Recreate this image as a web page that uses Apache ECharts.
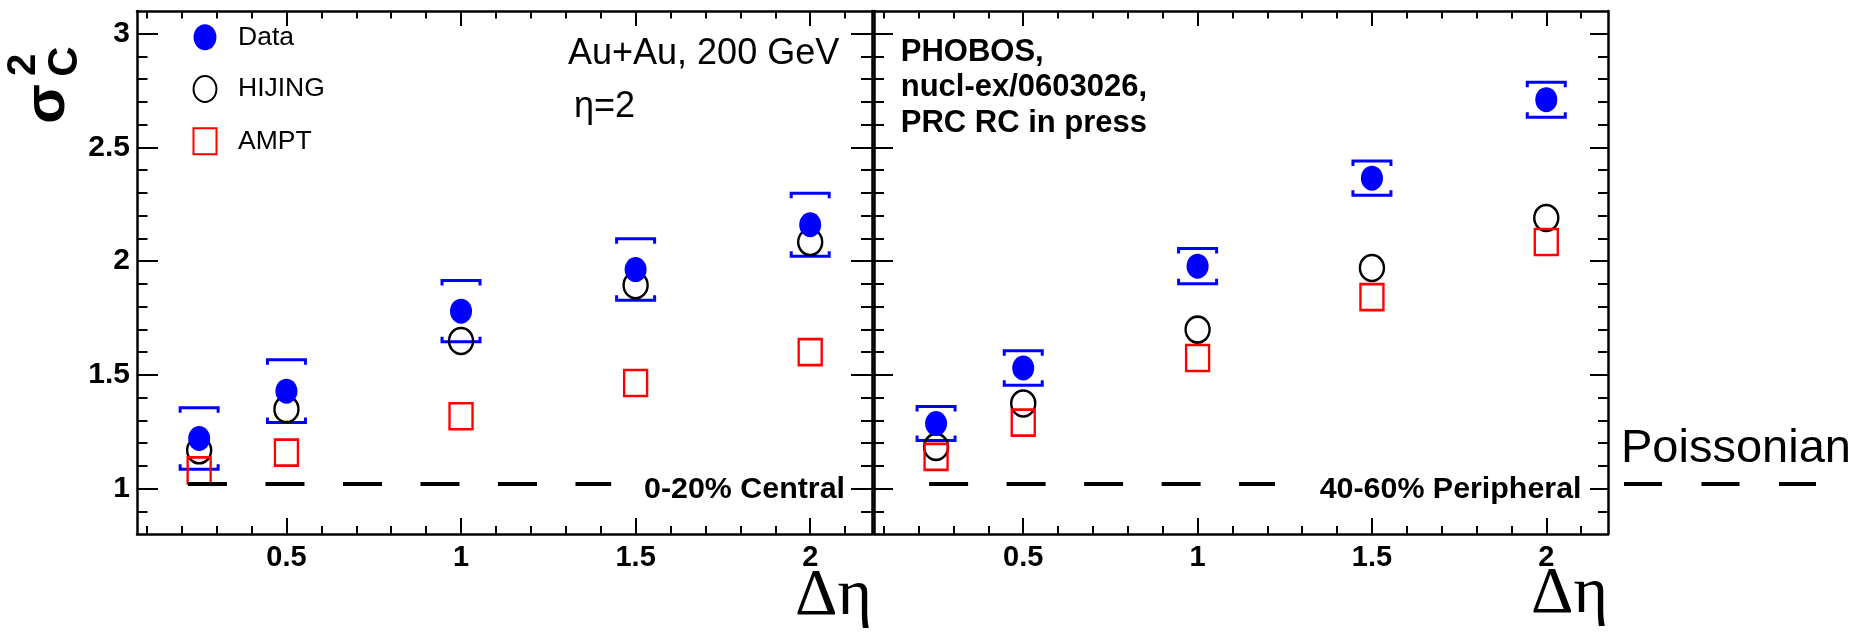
<!DOCTYPE html>
<html>
<head>
<meta charset="utf-8">
<title>Charge fluctuations vs Δη</title>
<script src="https://cdn.jsdelivr.net/npm/echarts@6/dist/echarts.min.js"></script>
<style>
  html, body { margin: 0; padding: 0; background: #ffffff; }
  #chart { width: 1867px; height: 635px; }
</style>
</head>
<body>
<div id="chart"></div>
<script>
// ---- values ----
const deltaEta = [0.25, 0.5, 1, 1.5, 2];

const dataCentral   = [1.22, 1.428, 1.78, 1.963, 2.16];
const errCentral    = [0.135, 0.138, 0.135, 0.135, 0.138];
const hijingCentral = [1.168, 1.349, 1.649, 1.894, 2.084];
const amptCentral   = [1.08, 1.158, 1.318, 1.464, 1.60];

const dataPeripheral   = [1.286, 1.53, 1.978, 2.365, 2.71];
const errPeripheral    = [0.075, 0.076, 0.078, 0.075, 0.077];
const hijingPeripheral = [1.183, 1.374, 1.699, 1.97, 2.19];
const amptPeripheral   = [1.139, 1.29, 1.574, 1.842, 2.084];

// Poissonian reference level and the stretch of Δη it is drawn over in each panel
const poissonLevel = 1.02;
const poissonSpanCentral = [0.218, 1.43];
const poissonSpanPeripheral = [0.23, 1.222];

// ---- axes ----
const xRange = [0.072, 2.177];
const yRange = [0.8, 3.1];
const xMajorTicks = [0.5, 1, 1.5, 2];
const xMinorTicks = [0.1, 0.2, 0.3, 0.4, 0.6, 0.7, 0.8, 0.9, 1.1, 1.2, 1.3, 1.4, 1.6, 1.7, 1.8, 1.9, 2.1];
const yMajorTicks = [1, 1.5, 2, 2.5, 3];
const yMinorTicks = [0.9, 1.1, 1.2, 1.3, 1.4, 1.6, 1.7, 1.8, 1.9, 2.1, 2.2, 2.3, 2.4, 2.6, 2.7, 2.8, 2.9];

const SANS = '"Liberation Sans", Arial, Helvetica, sans-serif';
const SERIF = '"Liberation Serif", "DejaVu Serif", serif';
const BLUE = '#0000ff', RED = '#ff0000', BLACK = '#000000';

// a condensed face for the tall bold labels, when the system has one
function hasFont(name) {
  const ctx = document.createElement('canvas').getContext('2d');
  ctx.font = '40px monospace';
  const base = ctx.measureText('0.5 Central').width;
  ctx.font = '40px "' + name + '", monospace';
  return ctx.measureText('0.5 Central').width !== base;
}
const NARROW_OK = hasFont('Liberation Sans Narrow');
const NARROW = NARROW_OK ? '"Liberation Sans Narrow", ' + SANS : SANS;
const yLabelSize = NARROW_OK ? 33 : 30;
const centralityFont = NARROW_OK ? 'bold 37px ' + NARROW : 'bold 30.4px ' + SANS;

// marker shapes: slightly tall ellipse and tall box
const ELLIPSE = 'path://M0,12.5A11,12.5 0 1 1 22,12.5A11,12.5 0 1 1 0,12.5Z';
const BOX = 'path://M0,0H23V26H0Z';

const noLine = { show: false, onZero: false };
const tickLine = { color: BLACK, width: 2 };

function axis(dim, gridIndex, position, ticks, len, opts) {
  return {
    type: 'value', gridIndex, position,
    min: dim === 'x' ? xRange[0] : yRange[0],
    max: dim === 'x' ? xRange[1] : yRange[1],
    axisLine: opts.line
      ? { show: true, onZero: false, lineStyle: { color: BLACK, width: 2.5 } }
      : noLine,
    axisTick: { show: true, inside: true, length: len, customValues: ticks, lineStyle: tickLine },
    axisLabel: opts.labels
      ? { show: true, customValues: ticks, margin: opts.margin, color: BLACK,
          fontWeight: 'bold', fontSize: opts.fontSize, fontFamily: opts.fontFamily }
      : { show: false },
    splitLine: { show: false },
    silent: true
  };
}

const xLabelOpts = { line: true, labels: true, margin: 9, fontSize: 29, fontFamily: SANS };
const yLabelOpts = { line: true, labels: true, margin: 7, fontSize: yLabelSize, fontFamily: NARROW };

const xAxis = [
  // left panel: 0 bottom major, 1 bottom minor, 2 top major, 3 top minor
  axis('x', 0, 'bottom', xMajorTicks, 16, xLabelOpts),
  axis('x', 0, 'bottom', xMinorTicks, 8, {}),
  axis('x', 0, 'top', xMajorTicks, 15, { line: true }),
  axis('x', 0, 'top', xMinorTicks, 7.5, {}),
  // right panel: 4..7
  axis('x', 1, 'bottom', xMajorTicks, 16, xLabelOpts),
  axis('x', 1, 'bottom', xMinorTicks, 8, {}),
  axis('x', 1, 'top', xMajorTicks, 15, { line: true }),
  axis('x', 1, 'top', xMinorTicks, 7.5, {})
];

const yAxis = [
  // left panel: 0 left major, 1 left minor, 2 right major, 3 right minor
  axis('y', 0, 'left', yMajorTicks, 21, yLabelOpts),
  axis('y', 0, 'left', yMinorTicks, 10.5, {}),
  axis('y', 0, 'right', yMajorTicks, 21, { line: true }),
  axis('y', 0, 'right', yMinorTicks, 11, {}),
  // right panel: 4..7
  axis('y', 1, 'left', yMajorTicks, 19, { line: true }),
  axis('y', 1, 'left', yMinorTicks, 10, {}),
  axis('y', 1, 'right', yMajorTicks, 18, { line: true }),
  axis('y', 1, 'right', yMinorTicks, 10, {})
];

function pairs(xs, ys) { return xs.map((x, i) => [x, ys[i]]); }
function triples(xs, ys, es) { return xs.map((x, i) => [x, ys[i], es[i]]); }

// bracket-style error caps above and below each measured point
function renderBrackets(params, api) {
  const x = api.value(0), y = api.value(1), e = api.value(2);
  const hi = api.coord([x, y + e]);
  const lo = api.coord([x, y - e]);
  const hw = 19, hook = 5;
  const style = { stroke: BLUE, lineWidth: 3, fill: 'none' };
  return {
    type: 'group',
    children: [
      { type: 'polyline', shape: { points: [[hi[0] - hw, hi[1] + hook], [hi[0] - hw, hi[1]], [hi[0] + hw, hi[1]], [hi[0] + hw, hi[1] + hook]] }, style },
      { type: 'polyline', shape: { points: [[lo[0] - hw, lo[1] - hook], [lo[0] - hw, lo[1]], [lo[0] + hw, lo[1]], [lo[0] + hw, lo[1] - hook]] }, style }
    ]
  };
}

function panelSeries(axisIndex, data, err, hijing, ampt, poissonSpan) {
  const ax = { xAxisIndex: axisIndex, yAxisIndex: axisIndex };
  return [
    { ...ax, type: 'line', name: 'Poissonian', data: [[poissonSpan[0], poissonLevel], [poissonSpan[1], poissonLevel]],
      symbol: 'none', silent: true, lineStyle: { color: BLACK, width: 4, type: [39, 38.5] } },
    { ...ax, type: 'scatter', name: 'HIJING', data: pairs(deltaEta, hijing),
      symbol: ELLIPSE, symbolSize: [24, 26],
      itemStyle: { color: 'rgba(0,0,0,0)', borderColor: BLACK, borderWidth: 2.5, opacity: 1 } },
    { ...ax, type: 'scatter', name: 'AMPT', data: pairs(deltaEta, ampt),
      symbol: BOX, symbolSize: [23, 26],
      itemStyle: { color: 'rgba(0,0,0,0)', borderColor: RED, borderWidth: 2.5, opacity: 1 } },
    { ...ax, type: 'custom', name: 'Data errors', data: triples(deltaEta, data, err),
      renderItem: renderBrackets, encode: { x: 0, y: 1 }, silent: true },
    { ...ax, type: 'scatter', name: 'Data', data: pairs(deltaEta, data),
      symbol: ELLIPSE, symbolSize: [22, 25],
      itemStyle: { color: BLUE, opacity: 1 } }
  ];
}

const option = {
  backgroundColor: '#ffffff',
  animation: false,
  grid: [
    { left: 137, top: 11, width: 735, height: 523 },
    { left: 874, top: 11, width: 734, height: 523 }
  ],
  xAxis, yAxis,
  legend: {
    data: ['Data', 'HIJING', 'AMPT'],
    orient: 'vertical',
    left: 192.5, top: 23.7, padding: 0,
    itemWidth: 56, itemHeight: 26, itemGap: 24.3,
    symbolKeepAspect: true,
    selectedMode: false,
    textStyle: { fontSize: 26.5, color: BLACK, fontFamily: SANS }
  },
  series: [
    ...panelSeries(0, dataCentral, errCentral, hijingCentral, amptCentral, poissonSpanCentral),
    ...panelSeries(4, dataPeripheral, errPeripheral, hijingPeripheral, amptPeripheral, poissonSpanPeripheral)
  ]
};

const chart = echarts.init(document.getElementById('chart'), null, { renderer: 'canvas' });
chart.setOption(option);

// annotations, axis titles and the Poissonian key beside the right panel
const keyY = chart.convertToPixel({ yAxisIndex: 4 }, poissonLevel);
const leftPanelRight = chart.convertToPixel({ xAxisIndex: 0 }, xRange[1]);
const rightPanelRight = chart.convertToPixel({ xAxisIndex: 4 }, xRange[1]);
const axisBottom = chart.convertToPixel({ yAxisIndex: 0 }, yRange[0]);

function rotatedGlyph(text, x, y, font) {
  return { type: 'text', x, y, rotation: Math.PI / 2, silent: true,
    style: { text, font, fill: BLACK, textAlign: 'center', textVerticalAlign: 'middle', align: 'center', verticalAlign: 'middle' } };
}
function etaTitle(right, top) {
  return { type: 'text', x: right, y: top, silent: true,
    style: { text: 'Δη', font: '66px ' + SERIF, fill: BLACK, textAlign: 'right', align: 'right', textVerticalAlign: 'top', verticalAlign: 'top' } };
}

chart.setOption({
  graphic: [
    { type: 'text', left: 568, top: 35.8, silent: true,
      style: { text: 'Au+Au, 200 GeV', font: '36px ' + SANS, fill: BLACK } },
    { type: 'text', left: 574, top: 89, silent: true,
      style: { text: 'η=2', font: '36px ' + SANS, fill: BLACK } },
    { type: 'text', left: 900.7, top: 34.5, silent: true,
      style: { text: 'PHOBOS,\nnucl-ex/0603026,\nPRC RC in press', font: 'bold 31px ' + SANS, lineHeight: 35.5, fill: BLACK } },
    { type: 'text', right: 1867 - 845, top: NARROW_OK ? 472 : 475, silent: true,
      style: { text: '0-20% Central', font: centralityFont, fill: BLACK } },
    { type: 'text', right: 1867 - 1581.5, top: NARROW_OK ? 472 : 475, silent: true,
      style: { text: '40-60% Peripheral', font: centralityFont, fill: BLACK } },
    { type: 'text', left: 1621, top: keyY - 58, silent: true,
      style: { text: 'Poissonian', font: '47px ' + SANS, fill: BLACK } },
    { type: 'line', silent: true,
      shape: { x1: rightPanelRight + 16, y1: keyY, x2: rightPanelRight + 208, y2: keyY },
      style: { stroke: BLACK, lineWidth: 4, lineDash: [38, 39.5] } },
    etaTitle(leftPanelRight, axisBottom + 29.5),
    etaTitle(rightPanelRight, axisBottom + 28),
    rotatedGlyph('σ', 48, 104, 'bold 58px ' + SANS),
    rotatedGlyph('2', 24, 65, 'bold 40px ' + SANS),
    rotatedGlyph('C', 65.4, 61.5, 'bold 42px ' + SANS)
  ]
});
</script>
</body>
</html>
